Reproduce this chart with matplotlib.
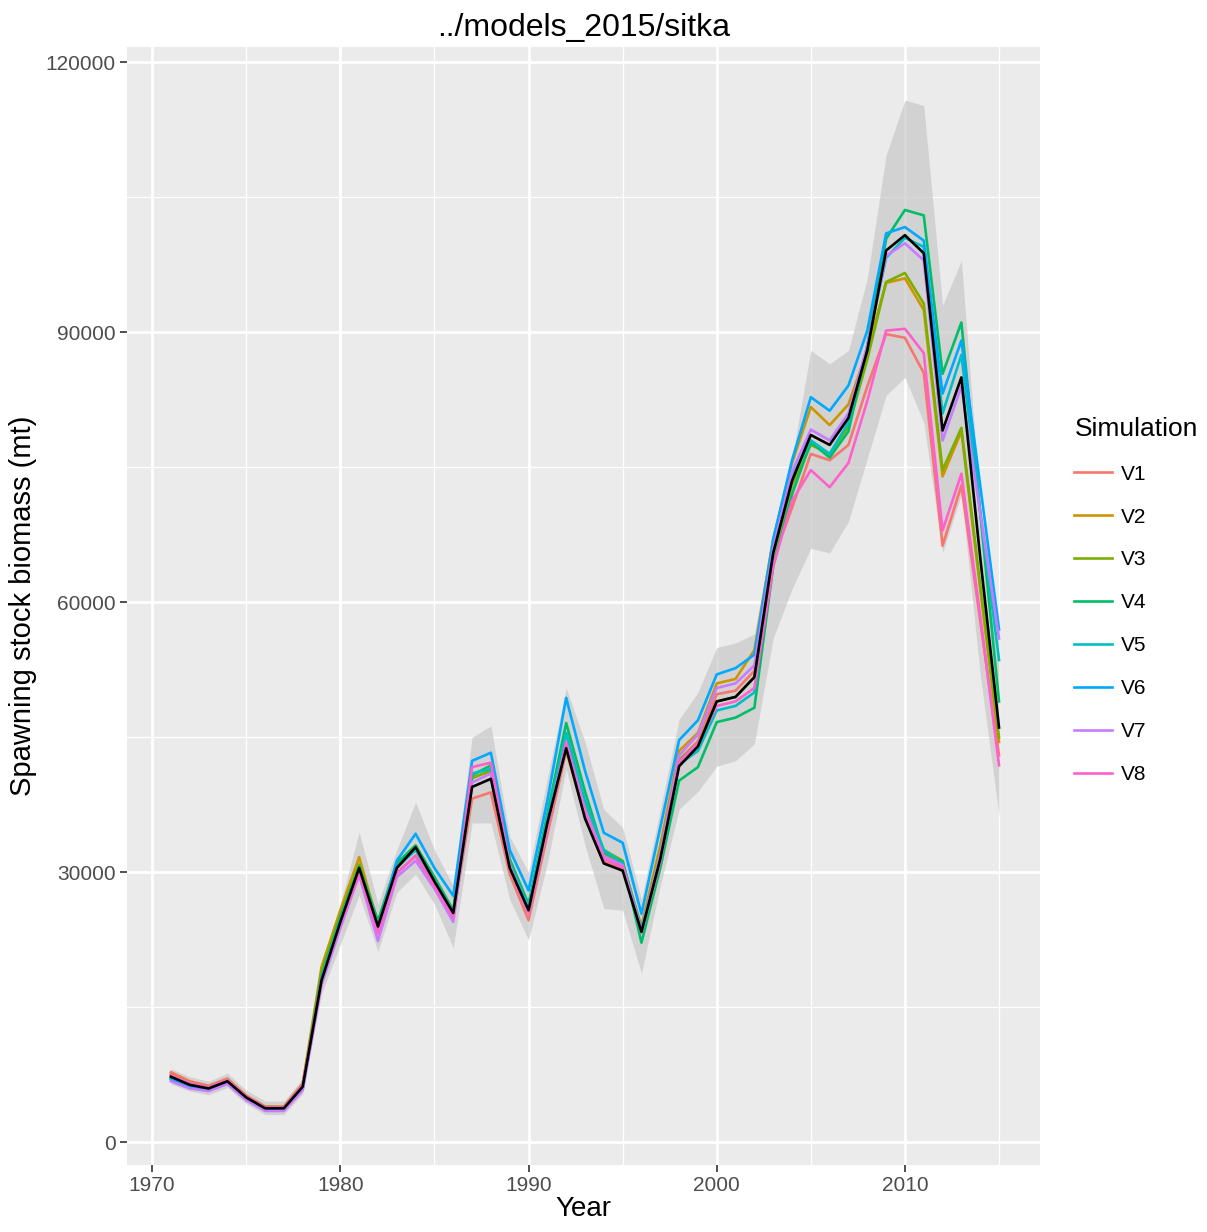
import numpy as np
import matplotlib
matplotlib.use("Agg")
import matplotlib.pyplot as plt
from matplotlib.ticker import MultipleLocator

plt.rcParams['font.family'] = ['Liberation Sans', 'DejaVu Sans']

years = list(range(1971, 2016))

base = [7300, 6400, 6000, 6800, 5000, 3800, 3800, 6200, 18000, 24500,
        30500, 24000, 30500, 32800, 29000, 25500, 39500, 40400, 30500, 25800,
        35500, 43800, 36000, 31000, 30200, 23400, 31500, 41800, 44000, 49000,
        49500, 51700, 65500, 73500, 78600, 77500, 80500, 88000, 99100, 100800,
        98800, 79100, 85000, 65000, 46100]

v1 = [7800, 6800, 6300, 7100, 5200, 4000, 4000, 6500, 18300, 24600,
      30400, 23700, 30000, 31800, 28600, 25000, 38200, 38900, 29800, 24700,
      34200, 43500, 36300, 31200, 30500, 23800, 32000, 42500, 44600, 49800,
      50200, 52400, 64800, 70500, 76500, 75800, 77500, 84000, 89800, 89400,
      85500, 66300, 73000, 58000, 43000]
v2 = [7600, 6700, 6200, 7000, 5150, 3950, 3950, 6500, 19500, 25800,
      31700, 24300, 30800, 32500, 29000, 25500, 40500, 41300, 30800, 25800,
      35500, 44500, 37000, 32000, 31000, 24000, 33000, 43500, 45500, 51000,
      51500, 54700, 67000, 75500, 81700, 79700, 82000, 88000, 95500, 96000,
      92500, 74000, 79000, 61500, 44500]
v3 = [7400, 6500, 6100, 6900, 5050, 3850, 3850, 6300, 19000, 25200,
      30900, 24500, 31000, 33000, 29300, 25700, 40500, 41300, 31000, 26000,
      35800, 45500, 37500, 32500, 31300, 23500, 32500, 42500, 44300, 49000,
      49500, 51700, 65000, 73000, 77500, 76500, 79500, 87000, 95600, 96600,
      93200, 74700, 79400, 62000, 45000]
v4 = [7200, 6300, 5900, 6700, 4900, 3700, 3700, 6100, 18500, 25000,
      30700, 24600, 31000, 33000, 29500, 25800, 40800, 41900, 31500, 26500,
      36500, 46600, 39000, 32200, 31200, 22200, 30500, 40200, 41700, 46700,
      47200, 48300, 64000, 72000, 77800, 76100, 79000, 88500, 100400, 103600,
      103000, 85400, 91100, 70000, 49000]
v5 = [7100, 6200, 5800, 6600, 4800, 3600, 3600, 6000, 18200, 24600,
      30200, 23800, 30500, 32500, 29000, 25500, 41000, 41500, 31000, 26200,
      36000, 45500, 38000, 32500, 31000, 23800, 31500, 42000, 43500, 48000,
      48500, 50000, 65500, 74000, 78000, 76500, 80000, 88500, 98300, 100500,
      99500, 81000, 87500, 70000, 53600]
v6 = [7000, 6100, 5800, 6600, 4800, 3600, 3600, 6000, 18000, 24500,
      30300, 23800, 31300, 34300, 30500, 27400, 42400, 43300, 32500, 28000,
      38000, 49400, 41300, 34400, 33300, 25400, 35000, 44700, 46900, 52000,
      52700, 54200, 67000, 75800, 82800, 81300, 84100, 90200, 101000, 101700,
      100200, 83200, 89100, 73000, 57000]
v7 = [6800, 6000, 5700, 6500, 4700, 3500, 3500, 5800, 17500, 23800,
      29700, 22400, 29500, 31300, 28200, 24500, 40000, 41000, 30500, 25500,
      35000, 44500, 37000, 31800, 30800, 23500, 32000, 43000, 45300, 50500,
      51000, 53000, 66000, 74500, 79200, 78000, 81000, 88500, 98500, 99900,
      98000, 78000, 84000, 70000, 56000]
v8 = [7500, 6600, 6150, 6950, 5100, 3900, 3900, 6400, 18000, 24300,
      29900, 23200, 29900, 31900, 28500, 25000, 41700, 42200, 30800, 25600,
      35200, 44400, 36500, 31500, 30600, 23300, 31200, 42300, 44300, 48500,
      49000, 50500, 64000, 71300, 74700, 72800, 75500, 82400, 90200, 90400,
      87700, 68000, 74300, 58500, 41900]

lo = [6500, 5700, 5300, 6100, 4300, 3100, 3100, 5400, 16500, 22000,
      27500, 21200, 27800, 29800, 26500, 21600, 35500, 35500, 27000, 22500,
      31000, 41500, 33000, 26000, 25800, 18800, 28500, 37000, 39000, 41800,
      42400, 44300, 56000, 61500, 66000, 65500, 69000, 76000, 83000, 85000,
      80000, 65500, 72000, 52000, 36300]
hi = [8200, 7300, 6800, 7700, 5800, 4600, 4600, 7100, 20000, 26500,
      34500, 26500, 32500, 37800, 32500, 28500, 45000, 46300, 34000, 30000,
      40500, 50500, 44500, 37000, 35000, 27000, 37000, 47000, 50000, 55000,
      55500, 56500, 68000, 76000, 88000, 86500, 88000, 96000, 109700, 115800,
      115200, 93000, 98000, 71000, 58000]

sims = ['V1', 'V2', 'V3', 'V4', 'V5', 'V6', 'V7', 'V8']
series = [v1, v2, v3, v4, v5, v6, v7, v8]
colors = ['#F8766D', '#CD9600', '#7CAE00', '#00BE67',
          '#00BFC4', '#00A9FF', '#C77CFF', '#FF61CC']

fig = plt.figure(figsize=(12.07, 12.32), dpi=100)
ax = fig.add_axes([0.105, 0.0544, 0.757, 0.9074])
ax.set_facecolor('#EBEBEB')

ax.fill_between(years, lo, hi, color='#C8C8C8', alpha=0.7, lw=0, zorder=2)
for name, vals, c in zip(sims, series, colors):
    ax.plot(years, vals, color=c, lw=1.9, label=name, zorder=3)
ax.plot(years, base, color='black', lw=1.9, zorder=4)

ax.set_xlim(1968.65, 2017.2)
ax.set_ylim(-2500, 121700)
ax.xaxis.set_major_locator(MultipleLocator(10))
ax.xaxis.set_minor_locator(MultipleLocator(5))
ax.yaxis.set_major_locator(MultipleLocator(30000))
ax.yaxis.set_minor_locator(MultipleLocator(15000))
ax.grid(which='major', color='white', lw=2.0, zorder=1)
ax.grid(which='minor', color='white', lw=0.9, zorder=1)
ax.set_axisbelow(True)
for s in ax.spines.values():
    s.set_visible(False)
ax.tick_params(which='major', length=5, width=1.2, color='#333333',
               labelsize=15, labelcolor='#4D4D4D', pad=3)
ax.tick_params(which='minor', length=0)

ax.set_title('../models_2015/sitka', fontsize=23, pad=8)
ax.set_xlabel('Year', fontsize=20, labelpad=1)
ax.set_ylabel('Spawning stock biomass (mt)', fontsize=21, labelpad=6)

leg = ax.legend(title='Simulation', loc='center left', bbox_to_anchor=(1.028, 0.505),
                frameon=False, fontsize=15, title_fontsize=19,
                handlelength=1.8, labelspacing=1.15, handletextpad=0.45,
                borderaxespad=0)
leg._legend_box.align = 'left'

fig.savefig('out.png', dpi=100)
